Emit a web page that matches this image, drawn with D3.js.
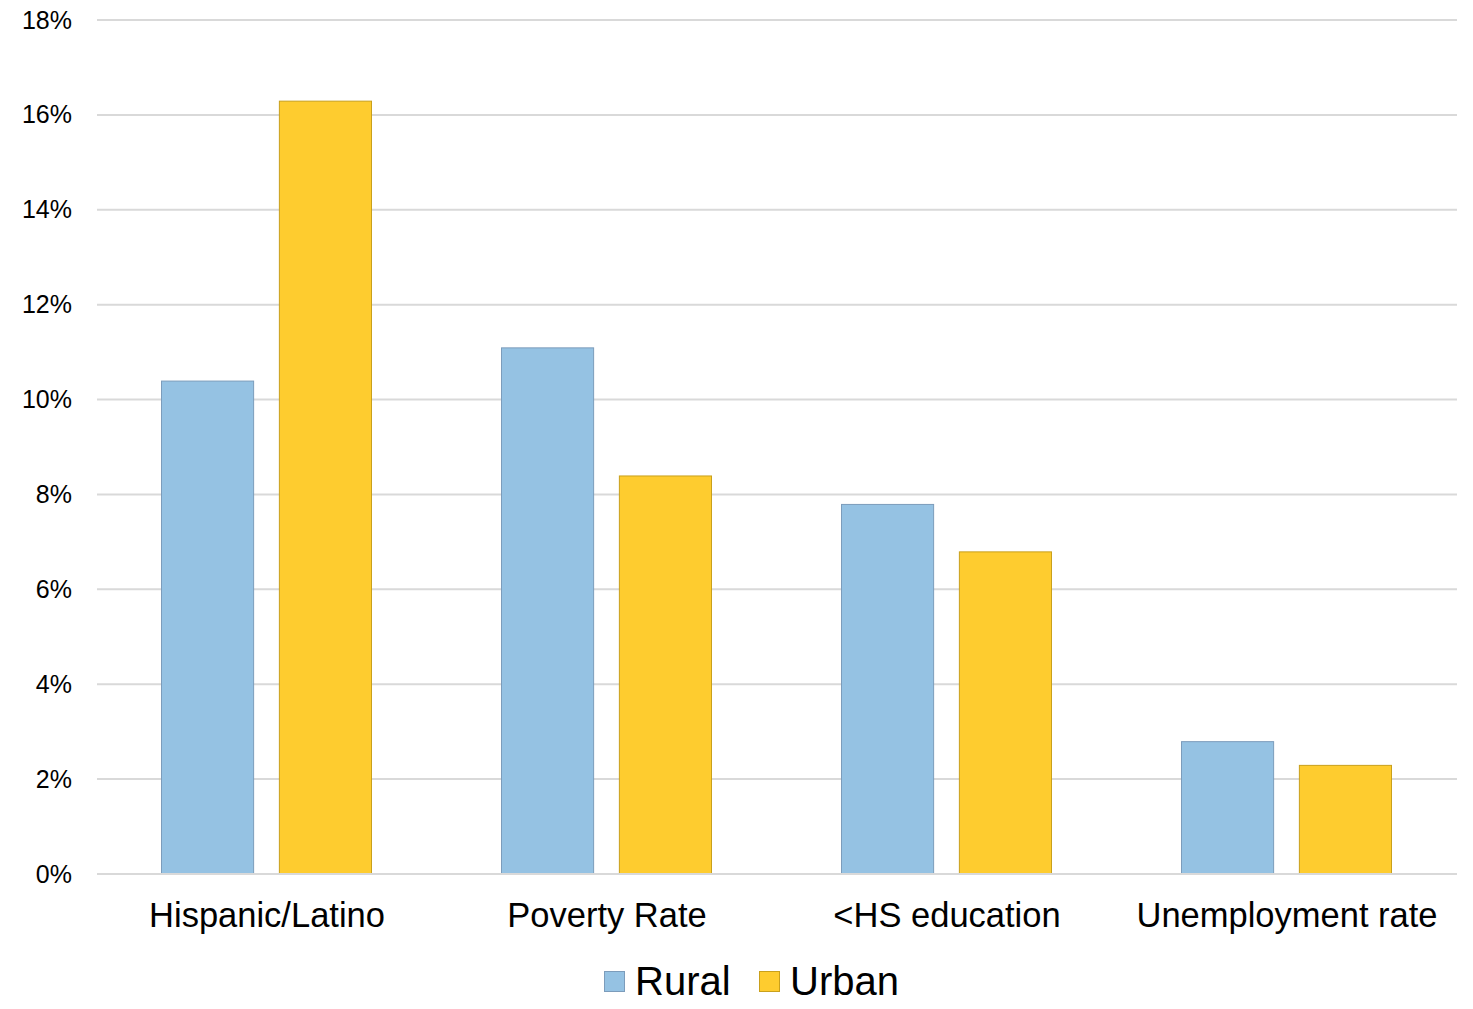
<!DOCTYPE html>
<html>
<head>
<meta charset="utf-8">
<script src="https://cdn.jsdelivr.net/npm/d3@7"></script>
<style>
  html, body { margin: 0; padding: 0; background: #fff; }
  svg { display: block; font-family: "Liberation Sans", Arial, sans-serif; }
</style>
</head>
<body>
<svg id="chart" width="1473" height="1009"></svg>
<script>
// Indicator categories and their rural / urban shares (%)
const categories = ["Hispanic/Latino", "Poverty Rate", "<HS education", "Unemployment rate"];
const series = ["Rural", "Urban"];
const ruralValues = [10.4, 11.1, 7.8, 2.8];
const urbanValues = [16.3, 8.4, 6.8, 2.3];
const yTicks = [0, 2, 4, 6, 8, 10, 12, 14, 16, 18];

const fills = { Rural: "#95C2E3", Urban: "#FECC2F" };
const strokes = { Rural: "#7C9CBB", Urban: "#C9A01C" };

const rows = categories.map((c, i) => ({ category: c, Rural: ruralValues[i], Urban: urbanValues[i] }));

const svg = d3.select("#chart");
const margin = { left: 97, right: 16, top: 20, bottom: 135 };
const W = 1473, H = 1009;
const plotW = W - margin.left - margin.right;
const plotH = H - margin.top - margin.bottom;

const g = svg.append("g").attr("transform", `translate(${margin.left},${margin.top})`);

const x0 = d3.scaleBand().domain(categories).range([0, plotW]).paddingInner(0).paddingOuter(0);
const x1 = d3.scaleBand().domain(series)
  .range([64, x0.bandwidth() - 65]).paddingInner(0.21).paddingOuter(0);
const y = d3.scaleLinear().domain([0, 18]).range([plotH, 0]);

// horizontal gridlines
g.append("g").selectAll("line").data(yTicks).join("line")
  .attr("x1", 0).attr("x2", plotW)
  .attr("y1", d => y(d)).attr("y2", d => y(d))
  .attr("stroke", "#D9D9D9").attr("stroke-width", 2);

// y-axis tick labels
const yAxis = d3.axisLeft(y).tickValues(yTicks).tickFormat(d => d + "%").tickSize(0).tickPadding(25);
const ya = g.append("g").call(yAxis)
  .attr("font-family", "'Liberation Sans', Arial, sans-serif")
  .attr("font-size", 25);
ya.select(".domain").remove();
ya.selectAll("text").attr("fill", "#000");

// bars
const groups = g.append("g").selectAll("g").data(rows).join("g")
  .attr("transform", d => `translate(${x0(d.category)},0)`);
groups.selectAll("rect")
  .data(d => series.map(s => ({ s, v: d[s] })))
  .join("rect")
  .attr("x", d => x1(d.s) + 0.5)
  .attr("width", x1.bandwidth() - 1)
  .attr("y", d => y(d.v) + 0.5)
  .attr("height", d => y(0) - y(d.v) - 0.5)
  .attr("fill", d => fills[d.s])
  .attr("stroke", d => strokes[d.s])
  .attr("stroke-width", 1);

// baseline redrawn above bars
g.append("line").attr("x1", 0).attr("x2", plotW).attr("y1", y(0)).attr("y2", y(0))
  .attr("stroke", "#D9D9D9").attr("stroke-width", 2);

// x-axis category labels
const xAxis = d3.axisBottom(x0).tickSize(0).tickPadding(0);
const xa = g.append("g").attr("transform", `translate(0,${plotH})`).call(xAxis)
  .attr("font-family", "'Liberation Sans', Arial, sans-serif")
  .attr("font-size", 34.5);
xa.select(".domain").remove();
xa.selectAll("text")
  .attr("fill", "#000")
  .attr("dy", null).attr("y", 53);

// legend
const legend = svg.append("g");
const legendItems = [{ s: "Rural", x: 604 }, { s: "Urban", x: 759 }];
legendItems.forEach(it => {
  legend.append("rect")
    .attr("x", it.x + 0.5).attr("y", 971.5).attr("width", 20).attr("height", 20)
    .attr("fill", fills[it.s]).attr("stroke", strokes[it.s]).attr("stroke-width", 1);
  legend.append("text")
    .attr("x", it.x + 31).attr("y", 995)
    .attr("font-size", 40).attr("fill", "#000")
    .text(it.s);
});
</script>
</body>
</html>
